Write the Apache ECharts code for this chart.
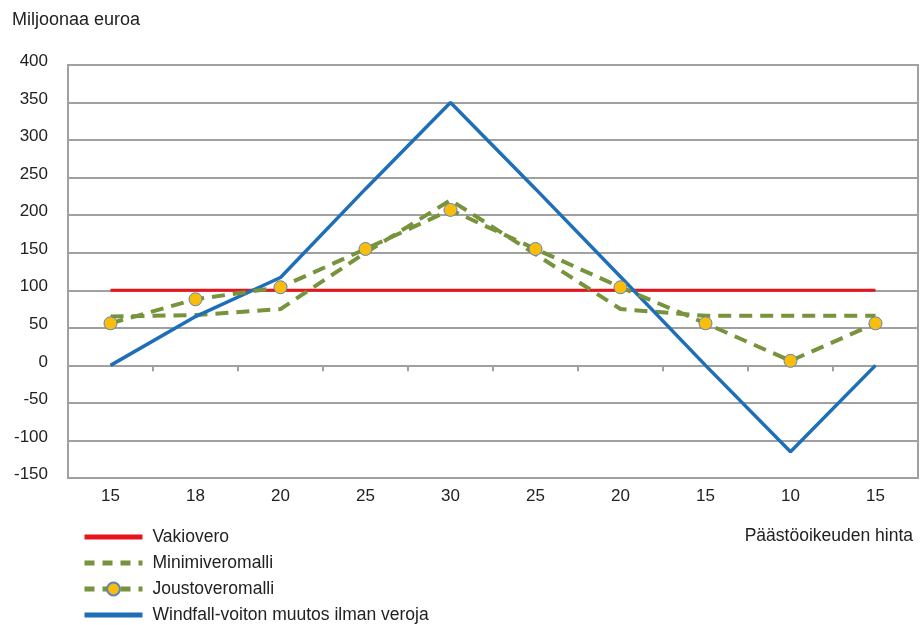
<!DOCTYPE html>
<html>
<head>
<meta charset="utf-8">
<script src="https://cdn.jsdelivr.net/npm/echarts@6/dist/echarts.min.js"></script>
<style>html,body{margin:0;padding:0;background:#fff}#c{width:921px;height:625px}</style>
</head>
<body>
<div id="c"></div>
<script>
var categories = ['15', '18', '20', '25', '30', '25', '20', '15', '10', '15'];
var vakiovero = [100, 100, 100, 100, 100, 100, 100, 100, 100, 100];
var minimiveromalli = [65, 67, 75, 150, 220, 148, 75, 66, 66, 66];
var joustoveromalli = [56, 88, 104, 155, 207, 155, 104, 56, 6, 56];
var windfall = [0, 65, 117, 235, 350, 235, 118, 0, -115, 0];
var yTicks = { min: -150, max: 400, interval: 50 };

var FONT = '"Liberation Sans", Arial, sans-serif';
var FS = 17;
var chart = echarts.init(document.getElementById('c'), null, { renderer: 'canvas' });
var green = '#77933c';
var red = '#e8141c';
var blue = '#1f6fb8';
chart.setOption({
  animation: false,
  backgroundColor: '#fff',
  textStyle: { fontFamily: FONT },
  grid: { left: 68, right: 3, top: 65, bottom: 147, show: true, borderColor: '#a0a0a0', borderWidth: 2 },
  graphic: [
    { type: 'text', left: 12, top: 11, style: { text: 'Miljoonaa euroa', font: '18px ' + FONT, fill: '#222' } },
    { type: 'text', right: 8, top: 527, style: { text: 'Päästöoikeuden hinta', font: '17.5px ' + FONT, fill: '#222' } }
  ],
  legend: {
    orient: 'vertical', left: 82, top: 528, padding: 0, itemGap: 8, itemWidth: 58, itemHeight: 16,
    textStyle: { fontSize: 17.5, lineHeight: 18, color: '#222', fontFamily: FONT, padding: [0, 0, 0, 5] },
    data: [
      { name: 'Vakiovero', itemStyle: { opacity: 0 }, lineStyle: { width: 5 } },
      { name: 'Minimiveromalli', itemStyle: { opacity: 0 }, lineStyle: { width: 5, type: [10, 8] } },
      { name: 'Joustoveromalli', lineStyle: { width: 5, type: [10, 8] } },
      { name: 'Windfall-voiton muutos ilman veroja', itemStyle: { opacity: 0 }, lineStyle: { width: 5 } }
    ]
  },
  xAxis: [
    {
      type: 'category', data: categories, position: 'bottom', boundaryGap: true,
      axisLine: { show: false, onZero: false }, axisTick: { show: false },
      axisLabel: { fontSize: FS, color: '#222', margin: 10, fontFamily: FONT }
    },
    {
      type: 'category', data: categories, position: 'bottom', boundaryGap: true,
      axisLine: { show: true, onZero: true, lineStyle: { color: '#a0a0a0', width: 2 } },
      axisTick: { show: true, length: 6, lineStyle: { color: '#a0a0a0', width: 2 } },
      axisLabel: { show: false }, splitLine: { show: false }
    }
  ],
  yAxis: {
    type: 'value', min: yTicks.min, max: yTicks.max, interval: yTicks.interval,
    axisLine: { show: true, lineStyle: { color: '#a0a0a0', width: 2 } },
    axisTick: { show: false },
    axisLabel: { fontSize: FS, color: '#222', margin: 20, fontFamily: FONT, verticalAlign: 'bottom', lineHeight: 7 },
    splitLine: { show: true, lineStyle: { color: '#a0a0a0', width: 2 } }
  },
  series: [
    {
      name: 'Vakiovero', type: 'line', data: vakiovero, symbol: 'none',
      lineStyle: { color: red, width: 3 }, itemStyle: { color: red }, z: 3
    },
    {
      name: 'Minimiveromalli', type: 'line', data: minimiveromalli, symbol: 'none',
      lineStyle: { color: green, width: 4, type: [13, 8] }, itemStyle: { color: green }, z: 4
    },
    {
      name: 'Joustoveromalli', type: 'line', data: joustoveromalli, symbol: 'circle', symbolSize: 13,
      lineStyle: { color: green, width: 4, type: [13, 8] },
      itemStyle: { color: '#fbbd0b', borderColor: '#5b86b8', borderWidth: 1 }, z: 6
    },
    {
      name: 'Windfall-voiton muutos ilman veroja', type: 'line', data: windfall, symbol: 'none',
      lineStyle: { color: blue, width: 3.5 }, itemStyle: { color: blue }, z: 5
    }
  ]
});
</script>
</body>
</html>
